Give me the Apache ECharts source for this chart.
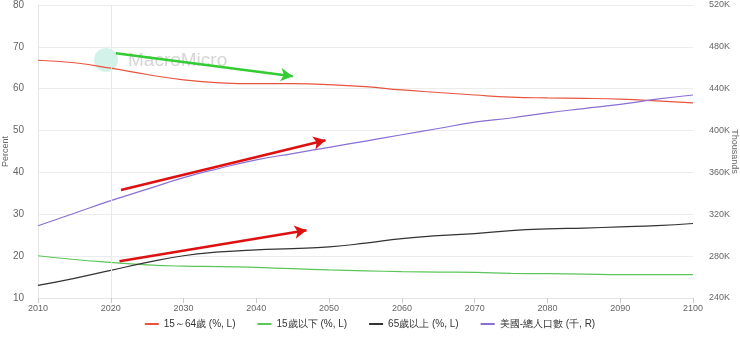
<!DOCTYPE html>
<html><head><meta charset="utf-8">
<script src="https://cdn.jsdelivr.net/npm/echarts@6/dist/echarts.min.js"></script>
<style>html,body{margin:0;padding:0;background:#fff}#c{width:740px;height:337px}</style>
</head><body><div id="c"></div>
<script>
const years = [2010,2015,2020,2025,2030,2035,2040,2045,2050,2055,2060,2065,2070,2075,2080,2085,2090,2095,2100];
const age15to64 = [66.8,66.2,64.9,63.4,62.1,61.4,61.2,61.2,61.0,60.5,59.7,59.1,58.5,58.0,57.8,57.7,57.5,57.1,56.6];
const under15 = [20.1,19.2,18.5,17.9,17.6,17.5,17.3,17.0,16.7,16.5,16.3,16.2,16.1,15.9,15.8,15.7,15.6,15.6,15.6];
const over65 = [13.0,14.7,16.6,18.5,20.1,21.0,21.5,21.8,22.2,23.1,24.2,24.9,25.4,26.1,26.5,26.7,27.0,27.3,27.8];
const population = [309,321,333,344,355,364,372,378,384,390,396,402,408,412,417,421,425,430,434];
const seriesNames = ['15～64歲 (%, L)','15歲以下 (%, L)','65歲以上 (%, L)','美國-總人口數 (千, R)'];
const colors = ['#e8553e','#5cc55a','#333333','#8a6fd6'];
// annotation arrows (data coordinates)
const greenArrow = [[2020.7,68.5],[2045,63.0]];
const redArrow1 = [[2021.4,35.8],[2049.5,47.7]];
const redArrow2 = [[2021.2,18.8],[2046.9,26.2]];

const pair = (xs, ys) => xs.map((x,i)=>[x, ys[i]]);
const chart = echarts.init(document.getElementById('c'));
const font = 'Liberation Sans, Arial, sans-serif';
function arrowLine(a, color){
  return [{coord:a[0], lineStyle:{color, width:2.5, type:'solid'}}, {coord:a[1]}];
}
chart.setOption({
  animation:false,
  grid:{left:38,right:47,top:5,bottom:39,containLabel:false,outerBoundsMode:'none'},
  legend:{bottom:3,left:'center',itemWidth:14,itemHeight:2,itemGap:22,icon:'rect',
    textStyle:{fontSize:10,color:'#333',fontFamily:font},data:seriesNames},
  graphic:[
    {type:'circle',left:94,top:48,shape:{r:12},style:{fill:'#b5eadb',opacity:0.6},z:-1},
    {type:'text',left:128,top:51,style:{text:'MacroMicro',fontSize:19,fill:'#d6d6d6',fontFamily:font},z:-1}
  ],
  xAxis:{type:'value',min:2010,max:2100,interval:10,
    axisLine:{lineStyle:{color:'#e6e6e6'}},axisTick:{show:true,lineStyle:{color:'#ccc'}},
    axisLabel:{color:'#666',fontSize:9,fontFamily:font,margin:6,formatter:v=>String(v)},
    splitLine:{show:false}},
  yAxis:[
    {type:'value',min:10,max:80,interval:10,name:'Percent',nameLocation:'middle',nameGap:28,
      nameMoveOverlap:false,
      nameTextStyle:{color:'#666',fontSize:9,fontFamily:font},
      axisLine:{show:true,lineStyle:{color:'#e6e6e6'}},axisTick:{show:false},
      axisLabel:{color:'#666',fontSize:10,fontFamily:font,margin:14},
      splitLine:{lineStyle:{color:'#ececec'}}},
    {type:'value',min:240,max:520,interval:40,name:'Thousands',nameLocation:'middle',nameGap:37,
      nameRotate:-90,nameMoveOverlap:false,
      nameTextStyle:{color:'#666',fontSize:9,fontFamily:font},
      axisLine:{show:false},axisTick:{show:false},
      axisLabel:{color:'#666',fontSize:9,fontFamily:font,margin:16,formatter:function(v){return v+'K';}},
      splitLine:{show:false}}
  ],
  series:[
    {name:seriesNames[0],type:'line',smooth:true,showSymbol:false,data:pair(years,age15to64),
      lineStyle:{width:1.2,color:colors[0]},itemStyle:{color:colors[0]},
      markLine:{silent:true,symbol:['none','none'],label:{show:false},
        lineStyle:{color:'#e8e8e8',type:'solid',width:1},data:[{xAxis:2020}]}},
    {name:seriesNames[1],type:'line',smooth:true,showSymbol:false,data:pair(years,under15),
      lineStyle:{width:1.2,color:colors[1]},itemStyle:{color:colors[1]}},
    {name:seriesNames[2],type:'line',smooth:true,showSymbol:false,data:pair(years,over65),
      lineStyle:{width:1.2,color:colors[2]},itemStyle:{color:colors[2]}},
    {name:seriesNames[3],type:'line',yAxisIndex:1,smooth:true,showSymbol:false,data:pair(years,population),
      lineStyle:{width:1.2,color:colors[3]},itemStyle:{color:colors[3]}},
    {type:'line',data:[],z:10,
      markLine:{silent:true,symbol:['none','arrow'],symbolSize:[10,12],label:{show:false},
        lineStyle:{type:'solid'},
        data:[arrowLine(greenArrow,'#33cc33'),arrowLine(redArrow1,'#dd1111'),arrowLine(redArrow2,'#dd1111')]}}
  ]
});
</script></body></html>
